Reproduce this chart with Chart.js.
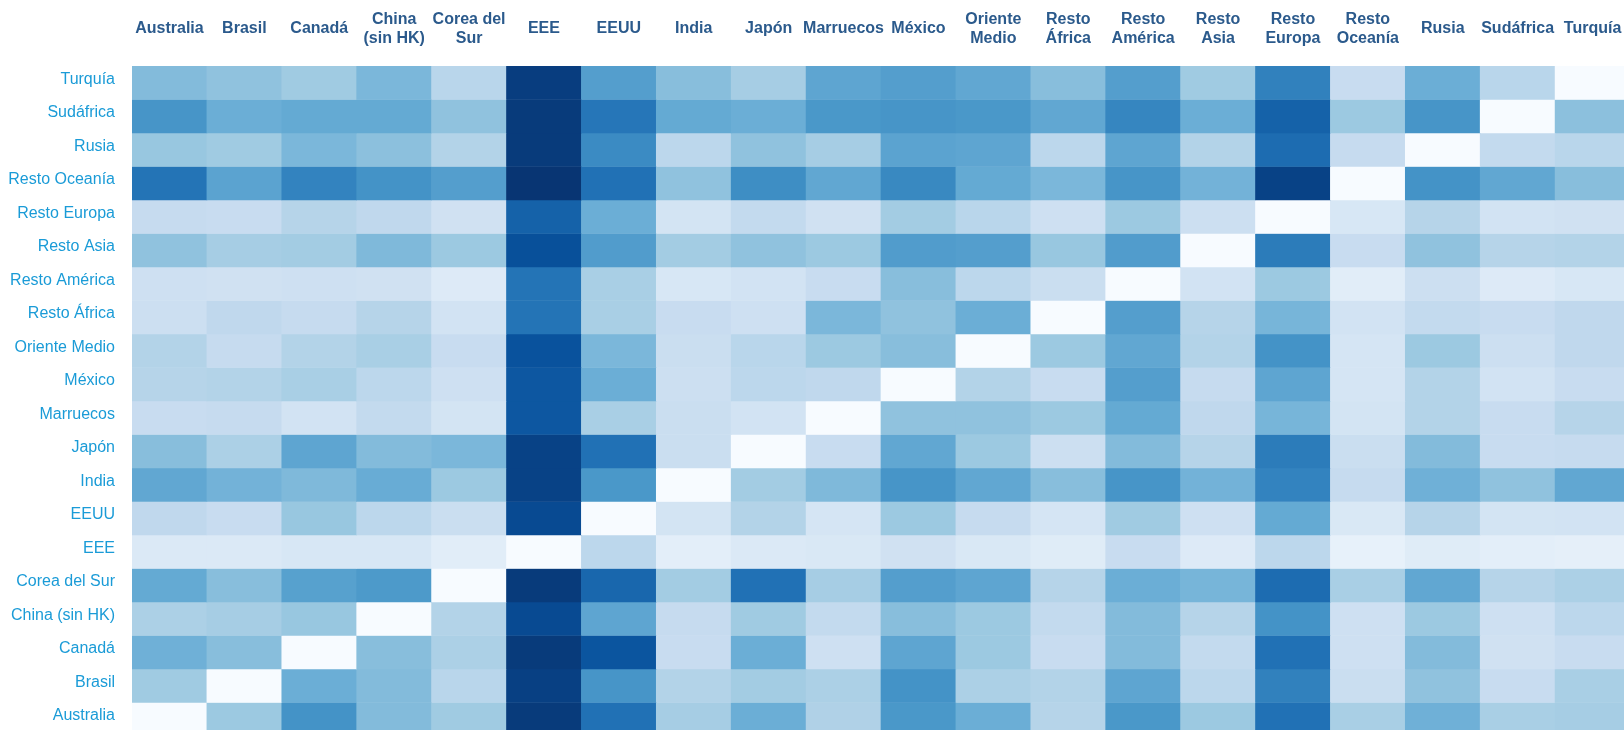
<!DOCTYPE html>
<html>
<head>
<meta charset="utf-8">
<script src="https://cdn.jsdelivr.net/npm/chart.js@4/dist/chart.umd.min.js"></script>
<style>
  html, body { margin: 0; padding: 0; background: #ffffff; overflow: hidden; }
  canvas { display: block; }
</style>
</head>
<body>
<canvas id="c" width="1630" height="736"></canvas>
<script>
// Column (destination) labels, shown on top
const columnLabels = [
  'Australia', 'Brasil', 'Canadá', ['China', '(sin HK)'], ['Corea del', 'Sur'], 'EEE', 'EEUU', 'India', 'Japón',
  'Marruecos', 'México', ['Oriente', 'Medio'], ['Resto', 'África'], ['Resto', 'América'], ['Resto', 'Asia'],
  ['Resto', 'Europa'], ['Resto', 'Oceanía'], 'Rusia', 'Sudáfrica', 'Turquía'
];

// Row labels, top to bottom
const rowLabels = [
  'Turquía', 'Sudáfrica', 'Rusia', 'Resto Oceanía', 'Resto Europa', 'Resto Asia', 'Resto América',
  'Resto África', 'Oriente Medio', 'México', 'Marruecos', 'Japón', 'India', 'EEUU', 'EEE',
  'Corea del Sur', 'China (sin HK)', 'Canadá', 'Brasil', 'Australia'
];

// Intensity values (0-100) per row, columns in the order of columnLabels
const turquia      = [44, 41, 37, 46, 29, 95, 57, 43, 35, 54, 57, 53, 43, 57, 37, 69, 24, 50, 29, 0];
const sudafrica    = [61, 50, 52, 52, 41, 96, 73, 52, 50, 60, 61, 60, 53, 67, 50, 81, 38, 61, 0, 42];
const rusia        = [39, 37, 46, 42, 31, 96, 65, 28, 41, 35, 55, 54, 28, 54, 31, 77, 25, 0, 26, 29];
const restoOceania = [74, 55, 68, 62, 57, 98, 75, 41, 64, 53, 66, 52, 46, 61, 48, 93, 0, 62, 53, 43];
const restoEuropa  = [25, 24, 30, 27, 20, 81, 50, 18, 26, 20, 36, 29, 21, 38, 22, 0, 16, 30, 19, 20];
const restoAsia    = [41, 35, 36, 45, 38, 88, 58, 36, 41, 38, 58, 57, 39, 58, 0, 71, 24, 41, 30, 31];
const restoAmerica = [21, 20, 21, 20, 13, 74, 34, 16, 19, 24, 43, 28, 23, 0, 19, 38, 11, 22, 13, 16];
const restoAfrica  = [22, 27, 25, 30, 19, 74, 34, 24, 21, 46, 41, 50, 0, 57, 30, 47, 19, 26, 24, 27];
const orienteMedio = [31, 25, 31, 34, 24, 87, 46, 23, 29, 38, 43, 0, 38, 53, 31, 62, 17, 38, 22, 27];
const mexico       = [30, 31, 34, 28, 21, 85, 50, 22, 28, 27, 0, 31, 24, 57, 25, 54, 17, 31, 19, 24];
const marruecos    = [24, 25, 19, 26, 18, 85, 34, 23, 19, 0, 41, 41, 38, 52, 27, 47, 18, 31, 24, 30];
const japon        = [43, 33, 54, 44, 46, 93, 75, 23, 0, 24, 53, 38, 22, 44, 30, 71, 23, 44, 24, 25];
const india        = [53, 48, 45, 51, 38, 93, 60, 0, 36, 45, 61, 53, 43, 61, 48, 68, 25, 49, 41, 53];
const eeuu         = [27, 24, 39, 28, 23, 90, 0, 18, 31, 17, 38, 25, 17, 37, 21, 52, 15, 30, 18, 19];
const eee          = [14, 14, 16, 16, 11, 0, 28, 10, 14, 15, 20, 15, 12, 24, 13, 28, 8, 12, 10, 9];
const coreaDelSur  = [52, 43, 56, 59, 0, 96, 79, 36, 75, 35, 57, 54, 30, 50, 47, 77, 34, 53, 30, 33];
const china        = [33, 35, 39, 0, 31, 90, 54, 25, 37, 26, 43, 38, 26, 44, 30, 62, 21, 38, 21, 28];
const canada       = [49, 43, 0, 43, 33, 96, 86, 24, 50, 21, 54, 38, 24, 44, 26, 75, 21, 44, 20, 24];
const brasil       = [37, 0, 50, 44, 29, 94, 61, 31, 36, 33, 62, 33, 31, 54, 28, 69, 23, 41, 24, 34];
const australia    = [0, 38, 62, 44, 37, 96, 75, 35, 50, 32, 60, 50, 30, 60, 38, 75, 34, 49, 34, 35];

const rowValues = [turquia, sudafrica, rusia, restoOceania, restoEuropa, restoAsia, restoAmerica,
  restoAfrica, orienteMedio, mexico, marruecos, japon, india, eeuu, eee, coreaDelSur, china,
  canada, brasil, australia];

// Sequential "Blues" colour scale
const BLUES = ['#f7fbff', '#deebf7', '#c6dbef', '#9ecae1', '#6baed6', '#4292c6', '#2171b5', '#08519c', '#08306b'];
function hexToRgb(h) { return [1, 3, 5].map(i => parseInt(h.substr(i, 2), 16)); }
const BLUES_RGB = BLUES.map(hexToRgb);
function blues(v) {
  const t = Math.max(0, Math.min(1, v / 100)) * (BLUES_RGB.length - 1);
  const i = Math.min(Math.floor(t), BLUES_RGB.length - 2);
  const f = t - i;
  const a = BLUES_RGB[i], b = BLUES_RGB[i + 1];
  const c = a.map((x, k) => Math.round(x + (b[k] - x) * f));
  return `rgb(${c[0]},${c[1]},${c[2]})`;
}

const datasets = rowValues.map((vals, r) => ({
  label: rowLabels[r],
  data: vals.map(() => 1),
  backgroundColor: vals.map(blues),
  borderWidth: 0,
  barPercentage: 1,
  categoryPercentage: 1,
  stack: 'grid'
}));

const FONT = '"Liberation Sans", Arial, Helvetica, sans-serif';

new Chart(document.getElementById('c'), {
  type: 'bar',
  data: { labels: columnLabels, datasets },
  options: {
    responsive: false,
    animation: false,
    layout: { padding: 0 },
    plugins: { legend: { display: false }, tooltip: { enabled: false } },
    scales: {
      x: {
        position: 'top',
        stacked: true,
        grid: { display: false, drawTicks: false },
        border: { display: false },
        ticks: {
          autoSkip: false,
          maxRotation: 0,
          minRotation: 0,
          crossAlign: 'center',
          padding: 27.7,
          color: '#2b5a8c',
          font: { family: FONT, size: 16, weight: 'bold', lineHeight: 1.2 }
        },
        afterFit(scale) {
          scale.height = 66;
          scale.paddingLeft = 0; scale.paddingRight = 0;
          scale.paddingTop = 0; scale.paddingBottom = 0;
        }
      },
      y: {
        type: 'linear',
        stacked: true,
        reverse: true,
        min: 0,
        max: rowLabels.length,
        grid: { display: false, drawTicks: false },
        border: { display: false },
        afterBuildTicks(scale) {
          scale.ticks = rowLabels.map((_, i) => ({ value: i + 0.5 }));
        },
        ticks: {
          autoSkip: false,
          padding: 17,
          labelOffset: -3.5,
          color: '#1a9bd7',
          font: { family: FONT, size: 16 },
          callback: (value) => rowLabels[Math.floor(value)]
        },
        afterFit(scale) {
          scale.width = 132;
          scale.paddingLeft = 0; scale.paddingRight = 0;
          scale.paddingTop = 0; scale.paddingBottom = 0;
        }
      }
    }
  }
});
</script>
</body>
</html>
